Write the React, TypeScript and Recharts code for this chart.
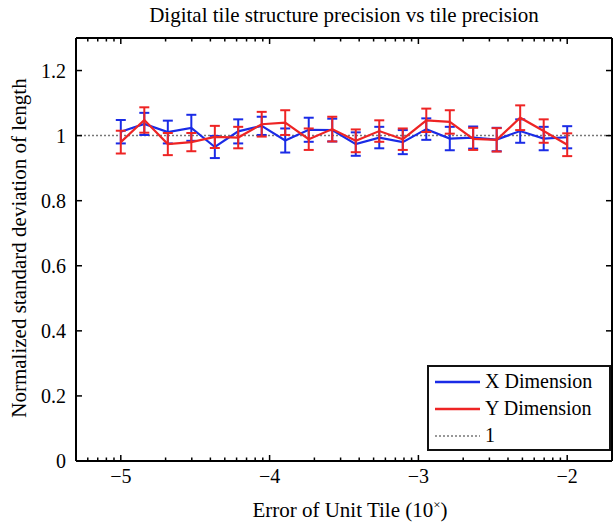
import {
  ComposedChart,
  ErrorBar,
  Legend,
  Line,
  ReferenceLine,
  XAxis,
  YAxis,
} from "recharts";

// log10 of the unit tile error
const errorExp = [
  -5, -4.842, -4.684, -4.526, -4.368, -4.211, -4.053, -3.895, -3.737, -3.579,
  -3.421, -3.263, -3.105, -2.947, -2.789, -2.632, -2.474, -2.316, -2.158, -2,
];
const xDim = [
  1.012, 1.036, 1.011, 1.024, 0.965, 1.013, 1.03, 0.985, 1.018, 1.017,
  0.974, 0.994, 0.98, 1.02, 0.991, 0.994, 0.988, 1.014, 0.991, 0.995,
];
const xDimErr = [
  0.036, 0.034, 0.035, 0.04, 0.034, 0.037, 0.028, 0.037, 0.037, 0.035,
  0.036, 0.033, 0.037, 0.033, 0.036, 0.034, 0.036, 0.036, 0.036, 0.034,
];
const yDim = [
  0.98, 1.048, 0.974, 0.98, 0.996, 0.994, 1.035, 1.04, 0.989, 1.02,
  0.984, 1.014, 0.989, 1.047, 1.042, 0.99, 0.987, 1.055, 1.014, 0.972,
];
const yDimErr = [
  0.035, 0.039, 0.034, 0.028, 0.034, 0.033, 0.038, 0.038, 0.033, 0.038,
  0.035, 0.033, 0.033, 0.036, 0.036, 0.034, 0.036, 0.038, 0.036, 0.035,
];

const xMajorTicks = [-5, -4, -3, -2];
const yTicks = [0, 0.2, 0.4, 0.6, 0.8, 1, 1.2];
const xDomain = [Math.log10(5e-6), Math.log10(2e-2)];

// log-style minor ticks between the decades
const xMinorTicks: number[] = [];
[-6, -5, -4, -3, -2].forEach((d) => {
  for (let k = 2; k <= 9; k++) {
    const t = d + Math.log10(k);
    if (t >= xDomain[0] - 1e-9 && t < xDomain[1] - 1e-6) xMinorTicks.push(t);
  }
});
const xTicks = [...xMajorTicks, ...xMinorTicks].sort((a, b) => a - b);

const rows = errorExp.map((x, i) => ({
  x,
  xd: xDim[i],
  xdErr: xDimErr[i],
  yd: yDim[i],
  ydErr: yDimErr[i],
}));

const BLUE = "#1a2be6";
const RED = "#ee2424";
const FONT = "'Liberation Serif', 'Times New Roman', serif";

const legendItems = [
  { label: "X Dimension", color: BLUE, dash: "" },
  { label: "Y Dimension", color: RED, dash: "" },
  { label: "1", color: "#777", dash: "2 2" },
];

const isMajor = (v: number) => xMajorTicks.some((m) => Math.abs(m - v) < 1e-9);
const fmtX = (v: number) => (v < 0 ? "\u2212" + Math.abs(v) : String(v));

function BottomTick(props: any) {
  const { x, y, payload } = props;
  const major = isMajor(payload.value);
  return (
    <g>
      <line x1={x} y1={y} x2={x} y2={y - (major ? 6 : 3.5)} stroke="#000" strokeWidth={1.5} />
      {major && (
        <text x={x} y={y + 22} textAnchor="middle" fontSize={20} fontFamily={FONT} fill="#000">
          {fmtX(payload.value)}
        </text>
      )}
    </g>
  );
}

function TopTick(props: any) {
  const { x, y, payload } = props;
  const major = isMajor(payload.value);
  return <line x1={x} y1={y} x2={x} y2={y + (major ? 6 : 3.5)} stroke="#000" strokeWidth={1.5} />;
}

function LeftTick(props: any) {
  const { x, y, payload } = props;
  return (
    <g>
      <line x1={x} y1={y} x2={x + 6} y2={y} stroke="#000" strokeWidth={1.5} />
      <text x={x - 10} y={y + 7} textAnchor="end" fontSize={20} fontFamily={FONT} fill="#000">
        {String(payload.value)}
      </text>
    </g>
  );
}

function RightTick(props: any) {
  const { x, y } = props;
  return <line x1={x} y1={y} x2={x - 6} y2={y} stroke="#000" strokeWidth={1.5} />;
}

function LegendBox() {
  return (
    <div
      style={{
        boxSizing: "border-box",
        width: 184,
        height: 86,
        border: "2px solid #111",
        background: "#fff",
        padding: "1px 0",
        fontFamily: FONT,
        fontSize: 20,
        color: "#000",
      }}
    >
      {legendItems.map((it) => (
        <div key={it.label} style={{ display: "flex", alignItems: "center", height: 27 }}>
          <svg width={52} height={10} style={{ marginLeft: 4 }}>
            <line
              x1={2}
              y1={5}
              x2={47}
              y2={5}
              stroke={it.color}
              strokeWidth={it.dash ? 1.5 : 2.5}
              strokeDasharray={it.dash || undefined}
            />
          </svg>
          <span style={{ lineHeight: "27px" }}>{it.label}</span>
        </div>
      ))}
    </div>
  );
}

export default function App() {
  return (
    <div style={{ position: "absolute", left: 0, top: 0, width: 614, height: 527, background: "#fff" }}>
      <div
        style={{
          position: "absolute",
          left: 0,
          top: 3,
          width: 688,
          textAlign: "center",
          fontFamily: FONT,
          fontSize: 21,
          color: "#000",
          whiteSpace: "nowrap",
        }}
      >
        Digital tile structure precision vs tile precision
      </div>
      <div
        style={{
          position: "absolute",
          left: 0,
          top: 497,
          width: 700,
          textAlign: "center",
          fontFamily: FONT,
          fontSize: 21,
          color: "#000",
          whiteSpace: "nowrap",
        }}
      >
        Error of Unit Tile (10<sup style={{ fontSize: 13 }}>×</sup>)
      </div>
      <div
        style={{
          position: "absolute",
          left: 19,
          top: 248,
          transform: "translate(-50%, -50%) rotate(-90deg)",
          fontFamily: FONT,
          fontSize: 21,
          color: "#000",
          whiteSpace: "nowrap",
        }}
      >
        Normalized standard deviation of length
      </div>
      <ComposedChart
        width={614}
        height={527}
        data={rows}
        margin={{ top: 8, right: 0, bottom: 36, left: 16 }}
        style={{ position: "absolute", left: 0, top: 0 }}
      >
        <XAxis
          dataKey="x"
          type="number"
          domain={xDomain}
          ticks={xTicks}
          interval={0}
          allowDataOverflow
          height={30}
          tickSize={0}
          tickMargin={0}
          tickLine={false}
          tick={BottomTick}
          axisLine={{ stroke: "#000", strokeWidth: 2 }}
        />
        <XAxis
          xAxisId="top"
          orientation="top"
          dataKey="x"
          type="number"
          domain={xDomain}
          ticks={xTicks}
          interval={0}
          allowDataOverflow
          height={30}
          tickSize={0}
          tickMargin={0}
          tickLine={false}
          tick={TopTick}
          axisLine={{ stroke: "#000", strokeWidth: 2 }}
        />
        <YAxis
          type="number"
          domain={[0, 1.3]}
          ticks={yTicks}
          interval={0}
          allowDataOverflow
          width={60}
          tickSize={0}
          tickMargin={0}
          tickLine={false}
          tick={LeftTick}
          axisLine={{ stroke: "#000", strokeWidth: 2 }}
        />
        <YAxis
          yAxisId="right"
          orientation="right"
          type="number"
          domain={[0, 1.3]}
          ticks={yTicks}
          interval={0}
          allowDataOverflow
          width={2}
          tickSize={0}
          tickMargin={0}
          tickLine={false}
          tick={RightTick}
          axisLine={{ stroke: "#000", strokeWidth: 2 }}
        />
        <ReferenceLine y={1} stroke="#777" strokeWidth={1.5} strokeDasharray="2 2" />
        <Line
          dataKey="xd"
          stroke={BLUE}
          strokeWidth={2.2}
          dot={false}
          isAnimationActive={false}
        >
          <ErrorBar dataKey="xdErr" direction="y" width={5} stroke={BLUE} strokeWidth={2} />
        </Line>
        <Line
          dataKey="yd"
          stroke={RED}
          strokeWidth={2.2}
          dot={false}
          isAnimationActive={false}
        >
          <ErrorBar dataKey="ydErr" direction="y" width={5} stroke={RED} strokeWidth={2} />
        </Line>
        <Legend
          layout="vertical"
          align="center"
          verticalAlign="middle"
          content={LegendBox}
          wrapperStyle={{ left: 427, top: 365, width: 184, height: 86 }}
        />
      </ComposedChart>
    </div>
  );
}
